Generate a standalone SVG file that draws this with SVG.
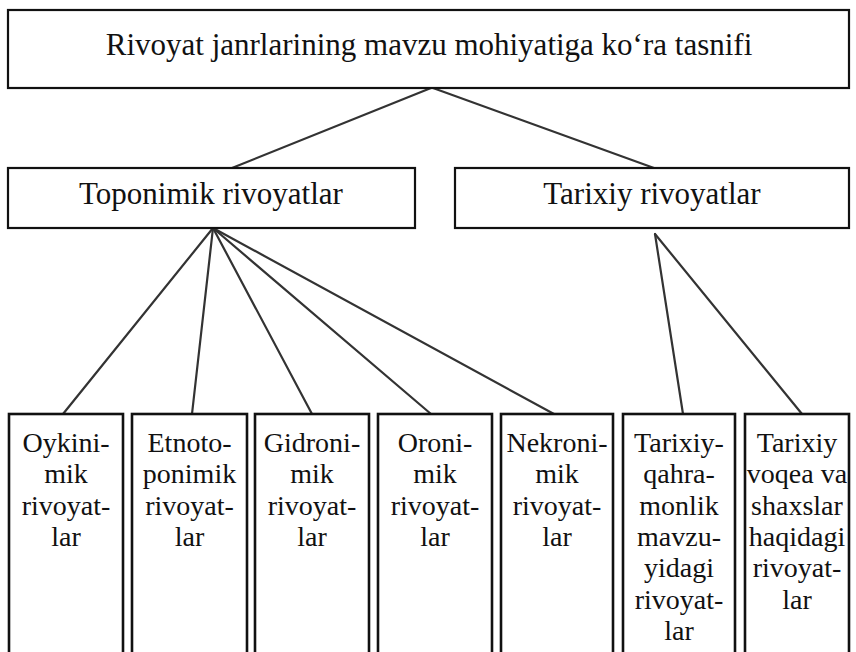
<svg xmlns="http://www.w3.org/2000/svg" width="856" height="652" viewBox="0 0 856 652">
<style>
.box{fill:#fff;stroke:#111;stroke-width:2.2}
.leaf{fill:#fff;stroke:#111;stroke-width:2.6}
.t{font-family:"Liberation Serif","Times New Roman",serif;fill:#111;text-anchor:middle}
.big{font-size:31px}
.sm{font-size:28px}
.c line{stroke:#333;stroke-width:2.2;stroke-linecap:round}
</style>
<rect width="856" height="652" fill="#fff"/>
<g class="c" id="connectors">
<line x1="431" y1="88" x2="232" y2="168"/>
<line x1="433" y1="88" x2="654" y2="168"/>
<line x1="213" y1="228" x2="63" y2="414"/>
<line x1="213" y1="228" x2="192" y2="414"/>
<line x1="213" y1="228" x2="312" y2="414"/>
<line x1="213" y1="228" x2="431" y2="414"/>
<line x1="213" y1="228" x2="554" y2="414"/>
<line x1="655" y1="234" x2="683" y2="414"/>
<line x1="655" y1="234" x2="802" y2="414"/>
</g>
<g id="root">
<rect class="box" x="8" y="10" width="841" height="78"/>
<text class="t big" x="429" y="55">Rivoyat janrlarining mavzu mohiyatiga ko‘ra tasnifi</text>
</g>
<g id="toponimik">
<rect class="box" x="8" y="168" width="407" height="60"/>
<text class="t big" x="211" y="204">Toponimik rivoyatlar</text>
</g>
<g id="tarixiy">
<rect class="box" x="455" y="168" width="394" height="60"/>
<text class="t big" x="652" y="204">Tarixiy rivoyatlar</text>
</g>
<g id="oykinimik">
<rect class="leaf" x="9" y="414" width="114" height="250"/>
<text class="t sm" x="66" y="452">Oykini-<tspan x="66" y="483">mik</tspan><tspan x="66" y="515">rivoyat-</tspan><tspan x="66" y="546">lar</tspan></text>
</g>
<g id="etnotoponimik">
<rect class="leaf" x="132" y="414" width="115" height="250"/>
<text class="t sm" x="189.5" y="452">Etnoto-<tspan x="189.5" y="483">ponimik</tspan><tspan x="189.5" y="515">rivoyat-</tspan><tspan x="189.5" y="546">lar</tspan></text>
</g>
<g id="gidronimik">
<rect class="leaf" x="255" y="414" width="114" height="250"/>
<text class="t sm" x="312" y="452">Gidroni-<tspan x="312" y="483">mik</tspan><tspan x="312" y="515">rivoyat-</tspan><tspan x="312" y="546">lar</tspan></text>
</g>
<g id="oronimik">
<rect class="leaf" x="378" y="414" width="114" height="250"/>
<text class="t sm" x="435" y="452">Oroni-<tspan x="435" y="483">mik</tspan><tspan x="435" y="515">rivoyat-</tspan><tspan x="435" y="546">lar</tspan></text>
</g>
<g id="nekronimik">
<rect class="leaf" x="501" y="414" width="112" height="250"/>
<text class="t sm" x="557" y="452">Nekroni-<tspan x="557" y="483">mik</tspan><tspan x="557" y="515">rivoyat-</tspan><tspan x="557" y="546">lar</tspan></text>
</g>
<g id="tarixiy-qahramonlik">
<rect class="leaf" x="623" y="414" width="112" height="250"/>
<text class="t sm" x="679" y="452">Tarixiy-<tspan x="679" y="483">qahra-</tspan><tspan x="679" y="515">monlik</tspan><tspan x="679" y="546">mavzu-</tspan><tspan x="679" y="577">yidagi</tspan><tspan x="679" y="609">rivoyat-</tspan><tspan x="679" y="640">lar</tspan></text>
</g>
<g id="tarixiy-voqea">
<rect class="leaf" x="745" y="414" width="104" height="250"/>
<text class="t sm" x="797" y="452">Tarixiy<tspan x="797" y="483">voqea va</tspan><tspan x="797" y="515">shaxslar</tspan><tspan x="797" y="546">haqidagi</tspan><tspan x="797" y="577">rivoyat-</tspan><tspan x="797" y="609">lar</tspan></text>
</g>
</svg>
